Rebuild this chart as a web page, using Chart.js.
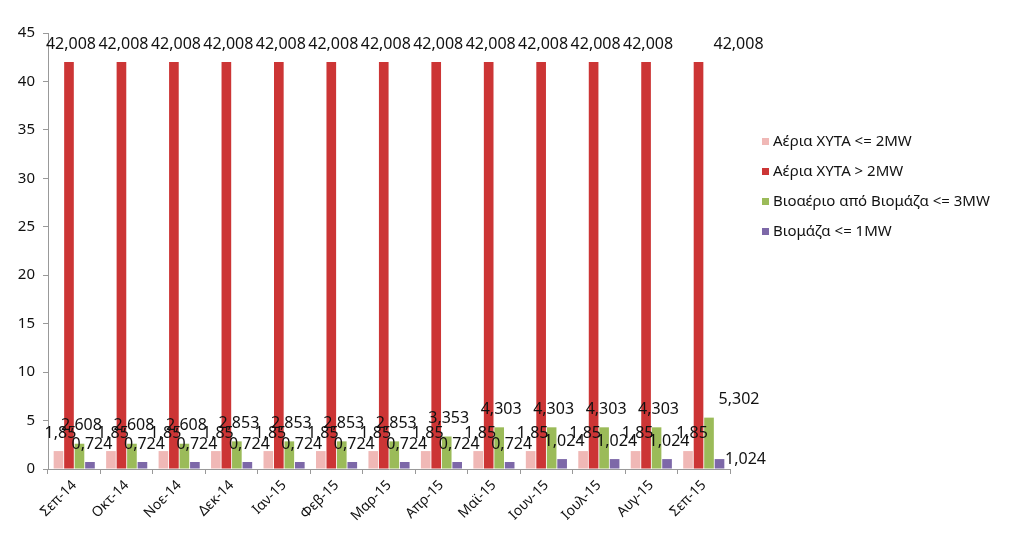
<!DOCTYPE html>
<html>
<head>
<meta charset="utf-8">
<script src="https://cdn.jsdelivr.net/npm/chart.js@4"></script>
<style>
    body { margin: 0; background: #fff; }
    #wrap { position: relative; width: 1024px; height: 549px; }
    #legend { position: absolute; left: 762px; top: 129px; font-family: "Noto Sans", sans-serif; font-size: 15px; color: #111; }
    #legend div { height: 30px; line-height: 22px; white-space: nowrap; }
    #legend span { display: inline-block; width: 7px; height: 7px; margin-right: 4px; vertical-align: 1px; }
</style>
</head>
<body>
<div id="wrap">
    <canvas id="chart" width="1024" height="549"></canvas>
    <div id="legend"></div>
</div>
<script>
const months = ['Σεπ-14', 'Οκτ-14', 'Νοε-14', 'Δεκ-14', 'Ιαν-15', 'Φεβ-15', 'Μαρ-15', 'Απρ-15', 'Μαϊ-15', 'Ιουν-15', 'Ιουλ-15', 'Αυγ-15', 'Σεπ-15'];
const landfillSmall = [1.85, 1.85, 1.85, 1.85, 1.85, 1.85, 1.85, 1.85, 1.85, 1.85, 1.85, 1.85, 1.85];
const landfillLarge = [42.008, 42.008, 42.008, 42.008, 42.008, 42.008, 42.008, 42.008, 42.008, 42.008, 42.008, 42.008, 42.008];
const biogas = [2.608, 2.608, 2.608, 2.853, 2.853, 2.853, 2.853, 3.353, 4.303, 4.303, 4.303, 4.303, 5.302];
const biomass = [0.724, 0.724, 0.724, 0.724, 0.724, 0.724, 0.724, 0.724, 0.724, 1.024, 1.024, 1.024, 1.024];
const yTicks = [0, 5, 10, 15, 20, 25, 30, 35, 40, 45];

const seriesNames = ['Αέρια ΧΥΤΑ <= 2MW', 'Αέρια ΧΥΤΑ > 2MW', 'Βιοαέριο από Βιομάζα <= 3MW', 'Βιομάζα <= 1MW'];
const seriesColors = ['#f0b8b6', '#cc3535', '#9bbb59', '#7d68a8'];
const seriesData = [landfillSmall, landfillLarge, biogas, biomass];

// Excel moved the last month's labels to the right
const lastShift = [[4, 0], [40, 0], [30, 0], [26, 18]];

const valueLabels = {
    id: 'valueLabels',
    afterDatasetsDraw(chart) {
        const ctx = chart.ctx;
        ctx.save();
        ctx.font = '16px "Noto Sans", sans-serif';
        ctx.fillStyle = '#111';
        ctx.textAlign = 'center';
        ctx.textBaseline = 'middle';
        chart.data.datasets.forEach((ds, i) => {
            chart.getDatasetMeta(i).data.forEach((bar, j) => {
                let dx = 2, dy = 0;
                if (j === ds.data.length - 1) { dx = lastShift[i][0]; dy = lastShift[i][1]; }
                const text = ds.data[j].toString().replace('.', ',');
                ctx.fillText(text, bar.x + dx, bar.y - 18 + dy);
            });
        });
        ctx.restore();
    }
};

new Chart(document.getElementById('chart'), {
    type: 'bar',
    data: {
        labels: months,
        datasets: seriesData.map((d, i) => ({
            label: seriesNames[i],
            data: d,
            backgroundColor: seriesColors[i],
            categoryPercentage: 0.8,
            barPercentage: 0.92
        }))
    },
    options: {
        responsive: false,
        animation: false,
        layout: { padding: { top: 33, right: 294, left: 0, bottom: 0 } },
        plugins: { legend: { display: false }, tooltip: { enabled: false } },
        scales: {
            x: {
                afterFit: (s) => { s.height = 80; },
                grid: { offset: true, drawOnChartArea: false, tickLength: 5, color: '#999' },
                border: { color: '#999' },
                ticks: {
                    maxRotation: 45, minRotation: 45, color: '#111',
                    font: { family: '"Noto Sans", sans-serif', size: 14 }
                }
            },
            y: {
                min: 0, max: 45,
                afterFit: (s) => { s.width = 48; },
                afterBuildTicks: (s) => { s.ticks = yTicks.map(v => ({ value: v })); },
                grid: { drawOnChartArea: false, tickLength: 5, color: '#999' },
                border: { color: '#999' },
                ticks: {
                    color: '#111', padding: 8,
                    font: { family: '"Noto Sans", sans-serif', size: 15 }
                }
            }
        }
    },
    plugins: [valueLabels]
});

const legendEl = document.getElementById('legend');
seriesNames.forEach((name, i) => {
    const row = document.createElement('div');
    row.innerHTML = `<span style="background:${seriesColors[i]}"></span>${name}`;
    legendEl.appendChild(row);
});
</script>
</body>
</html>
